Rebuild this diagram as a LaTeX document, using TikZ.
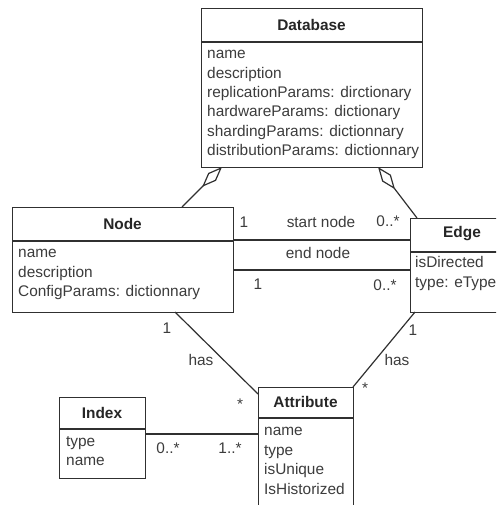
\documentclass[tikz,border=0pt]{standalone}
\usepackage{fontspec}
\setmainfont{Liberation Sans}
\usetikzlibrary{calc,arrows.meta}
\definecolor{ink}{HTML}{303030}
\definecolor{txt}{HTML}{3c3c3c}
\begin{document}
\begin{tikzpicture}[x=1pt,y=-1pt,
  every node/.style={font=\fontsize{15.4}{19}\selectfont, text=txt},
  classbox/.style={draw=ink, line width=1.2pt, fill=white, inner sep=0pt, anchor=north west},
  divider/.style={draw=ink, line width=1.2pt},
  title/.style={font=\fontsize{15.4}{19}\selectfont\bfseries, text=black!85, inner sep=0pt},
  attr/.style={anchor=mid west, inner sep=0pt},
  lbl/.style={anchor=mid, inner sep=0pt},
  assoc/.style={draw=ink, line width=1.2pt},
  aggr/.style={draw=ink, line width=1.2pt, -{Diamond[fill=white, length=28pt, width=11pt]}}
]
\useasboundingbox (0,0) rectangle (496,505);
\clip (0,0) rectangle (496,505);

% ---- Database class ----
\node[classbox, minimum width=221pt, minimum height=159pt] (db) at (201,8) {};
\draw[divider] (201,42) -- (422,42);
\node[title] (dbt) at (311.5,25) {Database};
\node[attr] (db1) at (207,56) {name};
\node[attr] (db2) at (207,75.4) {description};
\node[attr] (db3) at (207,94.8) {replicationParams: dirctionary};
\node[attr] (db4) at (207,114.2) {hardwareParams: dictionary};
\node[attr] (db5) at (207,133.6) {shardingParams: dictionnary};
\node[attr] (db6) at (207,153) {distributionParams: dictionnary};

% ---- Node class ----
\node[classbox, minimum width=221pt, minimum height=105pt] (nd) at (12,207) {};
\draw[divider] (12,241) -- (233,241);
\node[title] (ndt) at (122.5,224) {Node};
\node[attr] (nd1) at (18,255) {name};
\node[attr] (nd2) at (18,274.5) {description};
\node[attr] (nd3) at (18,294) {ConfigParams: dictionnary};

% ---- Edge class (runs past the right margin) ----
\node[classbox, minimum width=110pt, minimum height=94pt] (ed) at (410,218) {};
\draw[divider] (410,252) -- (520,252);
\node[title] (edt) at (462,234) {Edge};
\node[attr] (ed1) at (415,265) {isDirected};
\node[attr] (ed2) at (415,285) {type: eType};

% ---- Index class ----
\node[classbox, minimum width=86pt, minimum height=81pt] (ix) at (59,397) {};
\draw[divider] (59,429) -- (145,429);
\node[title] (ixt) at (102,413) {Index};
\node[attr] (ix1) at (66,444) {type};
\node[attr] (ix2) at (66,463) {name};

% ---- Attribute class (runs past the bottom margin) ----
\node[classbox, minimum width=95pt, minimum height=125pt] (at) at (258,387) {};
\draw[divider] (258,418) -- (353,418);
\node[title] (att) at (305.5,402) {Attribute};
\node[attr] (at1) at (264,433) {name};
\node[attr] (at2) at (264,453) {type};
\node[attr] (at3) at (264,472) {isUnique};
\node[attr] (at4) at (264,492) {IsHistorized};

% ---- connector end points ----
\coordinate (dbL) at (222,167);
\coordinate (dbR) at (378,167);
\coordinate (ndTop) at (182,207);
\coordinate (edTop) at (417,218);
\coordinate (ndS1) at (233,240);
\coordinate (edS1) at (410,240);
\coordinate (ndS2) at (233,270);
\coordinate (edS2) at (410,270);
\coordinate (ndBot) at (175,312);
\coordinate (atTL) at (258,394);
\coordinate (edBot) at (415,312);
\coordinate (atTR) at (353,387);
\coordinate (ixR) at (145,434);
\coordinate (atL) at (258,434);

% ---- aggregations ----
\draw[aggr] (ndTop) -- (dbL);
\draw[aggr] (edTop) -- (dbR);

% ---- associations ----
\draw[assoc] (ndS1) -- (edS1);
\draw[assoc] (ndS2) -- (edS2);
\draw[assoc] (ndBot) -- (atTL);
\draw[assoc] (edBot) -- (atTR);
\draw[assoc] (ixR) -- (atL);

% ---- association labels and multiplicities ----
\node[lbl] (m1) at (244,225) {1};
\node[lbl] (l1) at (321,225) {start node};
\node[lbl] (m2) at (388,224) {0..*};
\node[lbl] (l2) at (318,256) {end node};
\node[lbl] (m3) at (258,287) {1};
\node[lbl] (m4) at (385,288) {0..*};
\node[lbl] (m5) at (167,331) {1};
\node[lbl] (l3) at (201,363) {has};
\node[lbl] (m6) at (240,407) {*};
\node[lbl] (m7) at (413,333) {1};
\node[lbl] (l4) at (397,363) {has};
\node[lbl] (m8) at (365,391) {*};
\node[lbl] (m9) at (168,451) {0..*};
\node[lbl] (m10) at (230,451) {1..*};
\end{tikzpicture}
\end{document}
